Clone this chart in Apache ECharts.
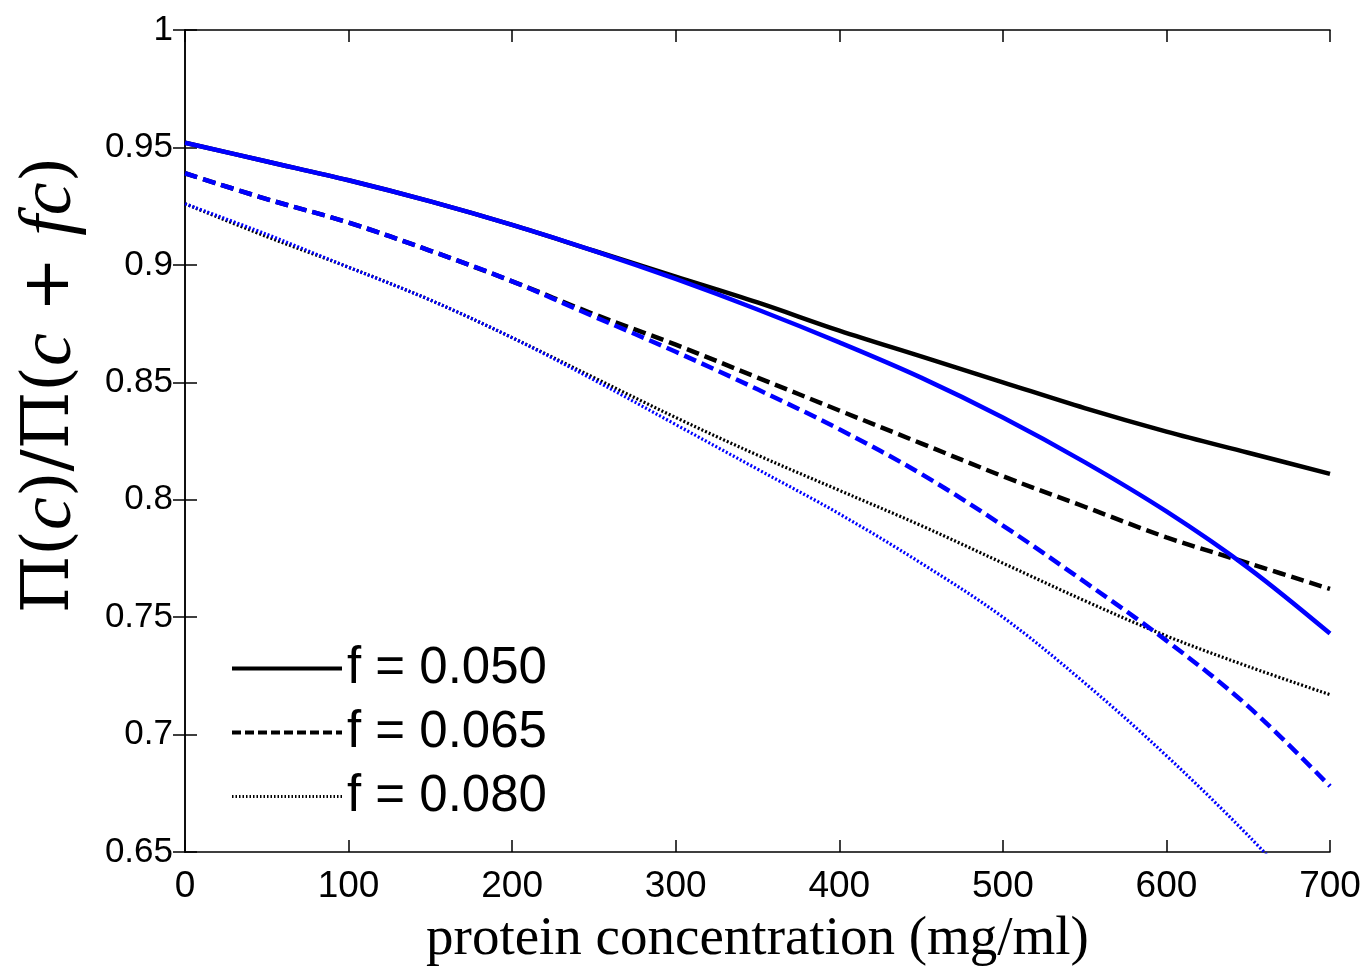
<!DOCTYPE html>
<html>
<head>
<meta charset="utf-8">
<script src="https://cdn.jsdelivr.net/npm/echarts@6/dist/echarts.min.js"></script>
<style>html,body{margin:0;padding:0;background:#fff}#c{width:1365px;height:968px}</style>
</head>
<body>
<div id="c"></div>
<script>
const concentration = [0, 50, 100, 150, 200, 250, 300, 350, 400, 450, 500, 550, 600, 650, 700];
const blackF050 = [0.952, 0.944, 0.936, 0.927, 0.917, 0.906, 0.895, 0.884, 0.872, 0.861, 0.850, 0.839, 0.829, 0.820, 0.811];
const blackF065 = [0.939, 0.928, 0.918, 0.906, 0.893, 0.879, 0.866, 0.852, 0.838, 0.824, 0.810, 0.797, 0.784, 0.773, 0.762];
const blackF080 = [0.926, 0.912, 0.899, 0.885, 0.869, 0.852, 0.835, 0.819, 0.804, 0.789, 0.773, 0.757, 0.742, 0.729, 0.717];
const blueF050 = [0.952, 0.944, 0.936, 0.927, 0.917, 0.906, 0.894, 0.881, 0.867, 0.852, 0.835, 0.816, 0.795, 0.771, 0.743];
const blueF065 = [0.939, 0.928, 0.918, 0.906, 0.893, 0.878, 0.863, 0.847, 0.830, 0.811, 0.789, 0.765, 0.740, 0.712, 0.678];
const blueF080 = [0.926, 0.913, 0.899, 0.885, 0.869, 0.851, 0.832, 0.813, 0.794, 0.773, 0.750, 0.722, 0.691, 0.657, 0.620];
const xTicks = [0, 100, 200, 300, 400, 500, 600, 700];
const yTicks = [0.65, 0.7, 0.75, 0.8, 0.85, 0.9, 0.95, 1];
const legendNames = ['f = 0.050', 'f = 0.065', 'f = 0.080'];

const pairs = a => concentration.map((x, i) => [x, a[i]]);
const BLUE = '#0000ff', BLACK = '#000000';
const styles = {
  solid: {type: 'solid', width: 4.5},
  dashed: {type: [13, 6], width: 4.5},
  dotted: {type: [2, 2], width: 3.2}
};
function line(name, data, color, st, z) {
  return {
    name: name, type: 'line', data: pairs(data), showSymbol: false, symbol: 'none',
    smooth: 0.35, clip: true, z: z,
    lineStyle: Object.assign({color: color}, styles[st]),
    itemStyle: {color: color}
  };
}
const axisLineStyle = {lineStyle: {color: '#000', width: 1.5}};
const tickStyle = {inside: true, length: 12, lineStyle: {color: '#000', width: 1.5}};
const chart = echarts.init(document.getElementById('c'));
chart.setOption({
  animation: false,
  backgroundColor: '#fff',
  grid: {left: 185, right: 35, top: 30, bottom: 116, show: false, containLabel: false, outerBoundsMode: 'none'},
  legend: {
    orient: 'vertical', left: 225, top: 638,
    itemWidth: 110, itemHeight: 52, itemGap: 13,
    itemStyle: {opacity: 0},
    data: [
      {name: legendNames[0], lineStyle: {color: BLACK, type: 'solid', width: 4}},
      {name: legendNames[1], lineStyle: {color: BLACK, type: [9, 4], width: 4}},
      {name: legendNames[2], lineStyle: {color: BLACK, type: [1.5, 2], width: 3}}
    ],
    textStyle: {fontFamily: 'Liberation Sans, Arial', fontSize: 51, color: '#000', padding: [0, 0, 0, 0]}
  },
  xAxis: [{
    type: 'value', min: 0, max: 700, interval: 100,
    axisLine: axisLineStyle, axisTick: tickStyle,
    splitLine: {show: false},
    axisLabel: {fontFamily: 'Liberation Sans, Arial', fontSize: 37, color: '#000', margin: 16},
    name: 'protein concentration (mg/ml)', nameLocation: 'middle', nameGap: 60,
    nameTextStyle: {fontFamily: 'Liberation Serif, Times New Roman, serif', fontSize: 55, color: '#000'}
  }, {
    type: 'value', min: 0, max: 700, interval: 100, position: 'top',
    axisLine: axisLineStyle, axisTick: tickStyle,
    axisLabel: {show: false}, splitLine: {show: false}
  }],
  yAxis: [{
    type: 'value', min: 0.65, max: 1, interval: 0.05,
    axisLine: axisLineStyle, axisTick: tickStyle,
    splitLine: {show: false},
    axisLabel: {fontFamily: 'Liberation Sans, Arial', fontSize: 35, color: '#000', margin: 12},
    name: '{n|Π(}{i|c}{n|)/Π(}{i|c}{n| + }{i|fc}{n|)}',
    nameLocation: 'middle', nameGap: 97, nameRotate: 90,
    nameTextStyle: {
      rich: {
        n: {fontFamily: 'DejaVu Serif, Liberation Serif, serif', fontSize: 66, color: '#000'},
        i: {fontFamily: 'Liberation Serif, Times New Roman, serif', fontStyle: 'italic', fontSize: 74, color: '#000'}
      },
      padding: [0, 0, 0, 112]
    }
  }, {
    type: 'value', min: 0.65, max: 1, interval: 0.05, position: 'right',
    axisLine: axisLineStyle, axisTick: tickStyle,
    axisLabel: {show: false}, splitLine: {show: false}
  }],
  series: [
    line(legendNames[0], blackF050, BLACK, 'solid', 3),
    line(legendNames[1], blackF065, BLACK, 'dashed', 3),
    line(legendNames[2], blackF080, BLACK, 'dotted', 3),
    line('blue f = 0.050', blueF050, BLUE, 'solid', 4),
    line('blue f = 0.065', blueF065, BLUE, 'dashed', 4),
    line('blue f = 0.080', blueF080, BLUE, 'dotted', 4)
  ]
});
</script>
</body>
</html>
